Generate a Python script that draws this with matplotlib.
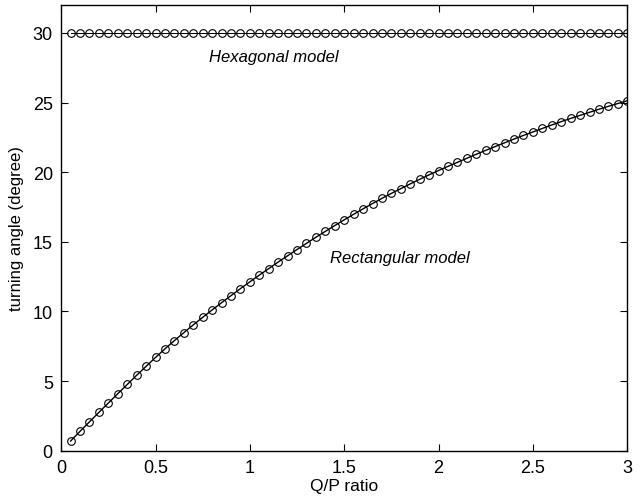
import matplotlib
matplotlib.use("Agg")
from matplotlib import pyplot as plt

plt.rcParams['font.family'] = ['Liberation Sans', 'DejaVu Sans']

# Q/P ratio samples (0.05 ... 3.00)
qp_ratio = [0.05, 0.10, 0.15, 0.20, 0.25, 0.30, 0.35, 0.40, 0.45, 0.50,
            0.55, 0.60, 0.65, 0.70, 0.75, 0.80, 0.85, 0.90, 0.95, 1.00,
            1.05, 1.10, 1.15, 1.20, 1.25, 1.30, 1.35, 1.40, 1.45, 1.50,
            1.55, 1.60, 1.65, 1.70, 1.75, 1.80, 1.85, 1.90, 1.95, 2.00,
            2.05, 2.10, 2.15, 2.20, 2.25, 2.30, 2.35, 2.40, 2.45, 2.50,
            2.55, 2.60, 2.65, 2.70, 2.75, 2.80, 2.85, 2.90, 2.95, 3.00]

hexagonal = [30.0] * 60

rectangular = [0.70, 1.40, 2.08, 2.76, 3.43, 4.10, 4.76, 5.42, 6.06, 6.70,
               7.32, 7.91, 8.48, 9.04, 9.58, 10.11, 10.63, 11.14, 11.64, 12.13,
               12.61, 13.08, 13.55, 14.00, 14.45, 14.89, 15.33, 15.75, 16.17, 16.58,
               16.98, 17.37, 17.75, 18.12, 18.48, 18.82, 19.16, 19.49, 19.81, 20.12,
               20.42, 20.71, 21.00, 21.29, 21.57, 21.84, 22.11, 22.38, 22.64, 22.89,
               23.14, 23.39, 23.63, 23.86, 24.08, 24.30, 24.52, 24.73, 24.93, 25.13]

fig = plt.figure(figsize=(6.44, 5.02), dpi=100)
ax = fig.add_axes([0.095, 0.100, 0.879, 0.888])

ax.plot(qp_ratio, hexagonal, '-', color='black', linewidth=0.7,
        marker='o', markersize=5.5, markerfacecolor='none',
        markeredgecolor='black', markeredgewidth=0.8)
ax.plot(qp_ratio, rectangular, '-', color='black', linewidth=1.0,
        marker='o', markersize=5.5, markerfacecolor='none',
        markeredgecolor='black', markeredgewidth=0.8)

ax.text(0.784, 28.3, "Hexagonal model", fontsize=12, style='italic', va='center')
ax.text(1.425, 13.9, "Rectangular model", fontsize=12, style='italic', va='center')

ax.set_xlim(0, 3)
ax.set_ylim(0, 32)
ax.set_xticks([0, 0.5, 1, 1.5, 2, 2.5, 3])
ax.set_xticklabels(["0", "0.5", "1", "1.5", "2", "2.5", "3"])
ax.set_yticks([0, 5, 10, 15, 20, 25, 30])
ax.tick_params(direction='in', top=True, right=True, length=5, width=0.8,
               labelsize=13, pad=6)
for s in ax.spines.values():
    s.set_linewidth(1.0)

ax.set_xlabel("Q/P ratio", fontsize=12.5, labelpad=1)
ax.set_ylabel("turning angle (degree)", fontsize=12, labelpad=6)

fig.savefig("out.png", dpi=100)
